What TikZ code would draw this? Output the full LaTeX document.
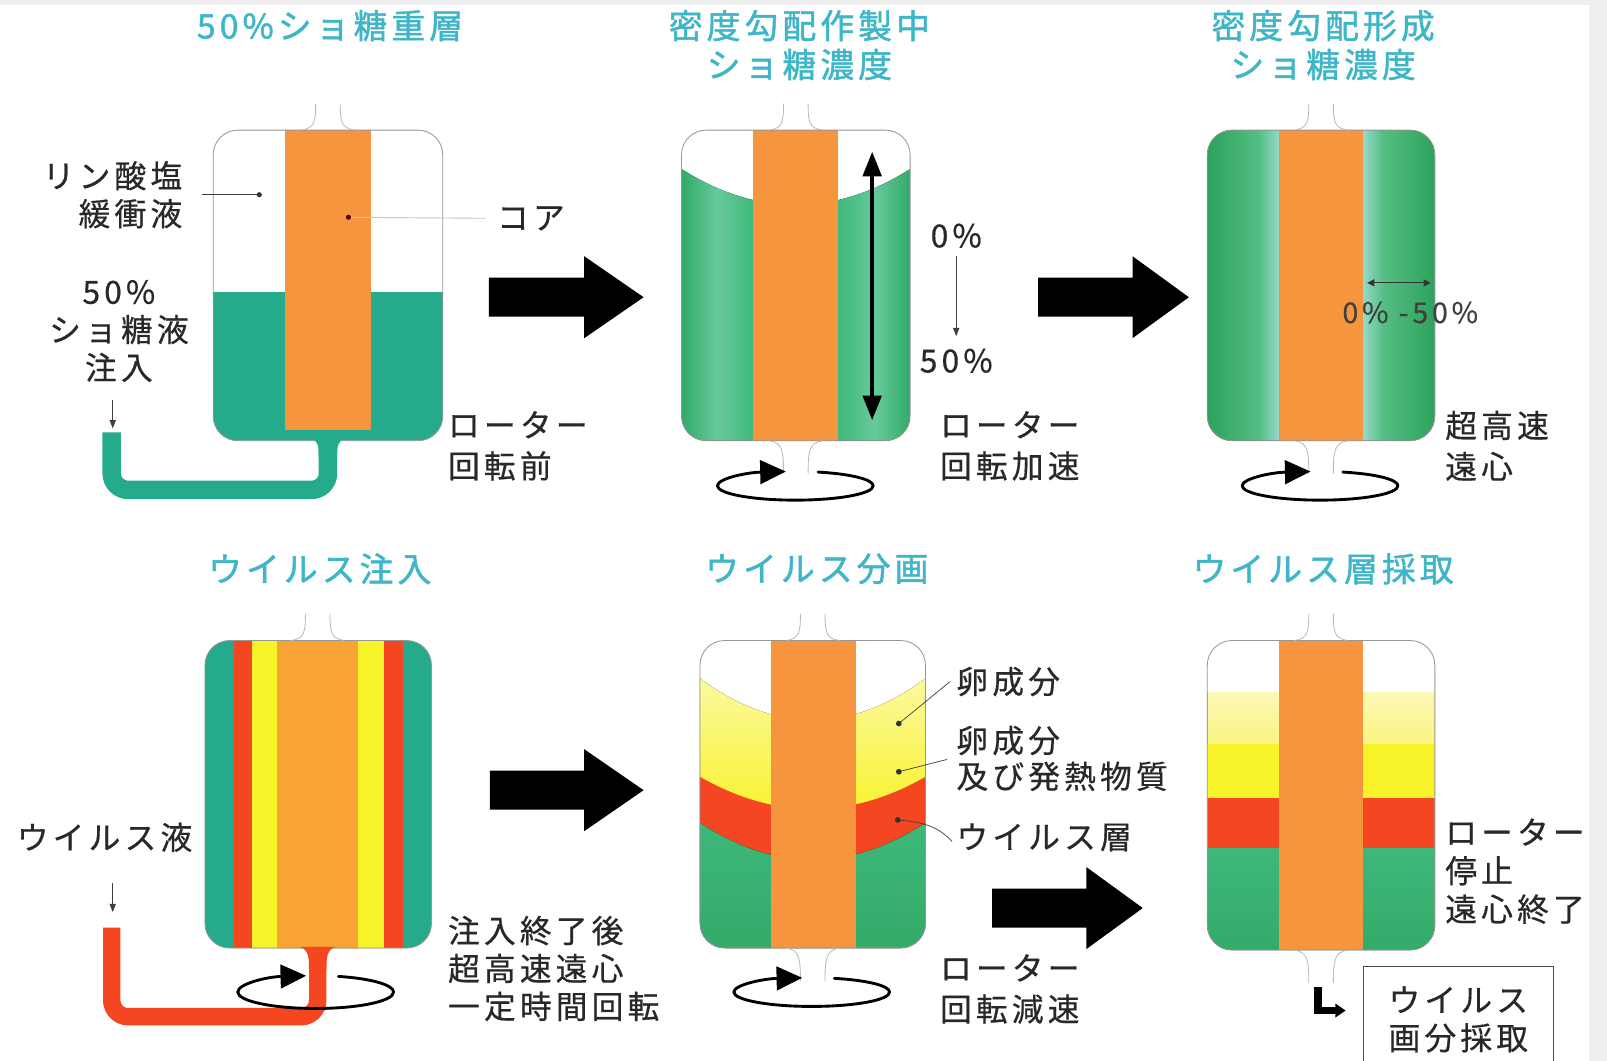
\documentclass[tikz,border=0pt]{standalone}
\usepackage{fontspec}
\usetikzlibrary{arrows.meta}
\newfontfamily\jp[LetterSpace=13,FakeBold=0.5]{Noto Sans CJK JP}
\newfontfamily\jpt[LetterSpace=12,FakeBold=1.4]{Noto Sans CJK JP}

\definecolor{ttlteal}{RGB}{62,182,200}
\definecolor{coreor}{RGB}{247,148,62}
\definecolor{teal1}{RGB}{38,170,140}
\definecolor{grn}{RGB}{62,184,122}
\definecolor{grnd}{RGB}{50,170,104}
\definecolor{grnl}{RGB}{104,202,156}
\definecolor{gthd}{RGB}{44,162,92}
\definecolor{gthm}{RGB}{84,190,130}
\definecolor{cyl}{RGB}{150,218,205}
\definecolor{vred}{RGB}{244,70,32}
\definecolor{vyel}{RGB}{248,242,40}
\definecolor{pyel}{RGB}{250,246,165}
\definecolor{rim}{RGB}{150,150,150}
\definecolor{bgray}{RGB}{238,238,238}
\definecolor{txt}{RGB}{40,40,40}

% thin funnel lines above / below a tube
\newcommand\necktop[2]{%
  \draw[neck] (#1-12,#2-26) .. controls (#1-12,#2-8) and (#1-13,#2-2) .. (#1-26,#2);
  \draw[neck] (#1+12,#2-26) .. controls (#1+12,#2-8) and (#1+13,#2-2) .. (#1+26,#2);}
\newcommand\neckbot[2]{%
  \draw[neck] (#1-12,#2+32) .. controls (#1-12,#2+10) and (#1-13,#2+2) .. (#1-26,#2);
  \draw[neck] (#1+12,#2+32) .. controls (#1+12,#2+10) and (#1+13,#2+2) .. (#1+26,#2);}
% rotation symbol: back part (with arrow) and front part
\newcommand\rotback[3]{%
  \draw[rot, -{Triangle[length=25pt,width=23pt]}] (#1-76,#2) arc[start angle=180, end angle=263, x radius=76, y radius=#3];
  \draw[rot] (#1+76,#2) arc[start angle=360, end angle=287, x radius=76, y radius=#3];}
\newcommand\rotfront[3]{%
  \draw[rot] (#1+76,#2) arc[start angle=0, end angle=180, x radius=76, y radius=#3];}
% big block arrow: x start, x head base, x tip, y centre
\newcommand\blockarrow[4]{%
  \fill[black] (#1,#4-19) -- (#2,#4-19) -- (#2,#4-40) -- (#3,#4) -- (#2,#4+40) -- (#2,#4+19) -- (#1,#4+19) -- cycle;}

\begin{document}
\begin{tikzpicture}[x=1pt,y=-1pt,
  lbl/.style={font=\jp\fontsize{31}{37}\selectfont, text=txt, inner sep=0pt},
  ttl/.style={font=\jpt\fontsize{33}{38}\selectfont, text=ttlteal, inner sep=0pt},
  outline/.style={draw=rim, line width=0.8pt},
  neck/.style={draw=gray!55, line width=0.8pt},
  rot/.style={line width=2.8pt, line cap=round, black},
  lead/.style={draw=black!75, line width=0.7pt},
  leadl/.style={draw=gray!45, line width=0.9pt},
  smallarrow/.style={draw=black!75, line width=0.8pt, -{Triangle[length=8pt,width=6pt]}},
  dot/.style={fill=black!80}]

\useasboundingbox (0,0) rectangle (1568,1035);
\fill[bgray] (0,0) rectangle (1568,1035);
\fill[white] (0,5) rectangle (1550,1035);

%================ top row ================
% titles
\node[ttl] (t1) at (322,25) {50\%ショ糖重層};
\node[ttl, align=center] (t2) at (780,44) {密度勾配作製中\\ショ糖濃度};
\node[ttl, align=center] (t3) at (1291,44) {密度勾配形成\\ショ糖濃度};

% ---- flask 1 : sucrose layer
\begin{scope}
  \clip[rounded corners=24pt] (208,127) rectangle (432,430);
  \fill[teal1] (200,285) rectangle (440,440);
\end{scope}
\fill[coreor] (278,127) rectangle (362,420);
\draw[outline, rounded corners=24pt] (208,127) rectangle (432,430);
\necktop{320}{127}
\draw[line width=18pt, teal1, rounded corners=16pt] (320,428) -- (320,478) -- (109,478) -- (109,422);
\fill[teal1] (303,428) .. controls (311,430) and (311,436) .. (311,446) -- (329,446) .. controls (329,436) and (329,430) .. (337,428) -- cycle;

\node[lbl, align=right, anchor=east] (buf) at (178,190) {リン酸塩\\緩衝液};
\coordinate (bufdot) at (253,190);
\draw[lead] ([xshift=19pt]buf.east) -- (bufdot);
\fill[dot] (bufdot) circle[radius=2.5];

\node[lbl] (core) at (518,213) {コア};
\coordinate (coredot) at (340,212);
\draw[leadl] (coredot) -- ([xshift=-12pt]core.west);
\fill[black!70!red] (coredot) circle[radius=2.5];

\node[lbl, align=center] (inj) at (116,323) {50\%\\ショ糖液\\注入};
\coordinate (injstart) at (110,390);
\coordinate (injtip) at (110,418);
\draw[smallarrow] (injstart) -- (injtip);

\node[lbl, anchor=west, align=left, font=\jp\fontsize{31}{40}\selectfont] (r1) at (437,435) {ローター\\回転前};

\blockarrow{477}{570}{628}{290}

% ---- flask 2 : gradient forming
\begin{scope}
  \clip[rounded corners=24pt] (665,127) rectangle (888,430);
  \clip (665,165) .. controls (739.3,211.7) and (813.7,211.7) .. (888,165) -- (895,165) -- (895,440) -- (660,440) -- (660,165) -- cycle;
  \fill[left color=grnd, right color=grn, middle color=grnl] (665,120) rectangle (735,440);
  \fill[left color=grn, right color=grnd, middle color=grnl] (818,120) rectangle (888,440);
\end{scope}
\fill[coreor] (735,127) rectangle (818,430);
\draw[outline, rounded corners=24pt] (665,127) rectangle (888,430);
\necktop{776.5}{127}
\neckbot{776.5}{430}
\draw[line width=3.5pt, {Triangle[length=24pt,width=18pt]}-{Triangle[length=24pt,width=18pt]}] (851,148) -- (851,410);

\node[lbl] (p0) at (933,230) {0\%};
\node[lbl] (p50) at (933,352) {50\%};
\draw[smallarrow] ([yshift=-8pt]p0.south) -- ([yshift=12pt]p50.north);
\node[lbl, anchor=west, align=left, font=\jp\fontsize{31}{40}\selectfont] (r2) at (917,435) {ローター\\回転加速};
\rotback{776}{474}{14}
\rotfront{776}{474}{14}

\blockarrow{1013}{1105}{1160}{290}

% ---- flask 3 : gradient formed
\begin{scope}
  \clip[rounded corners=24pt] (1178,127) rectangle (1400,430);
  \fill[left color=gthd, right color=gthm] (1178,120) rectangle (1228,440);
  \fill[left color=gthm, right color=cyl] (1228,120) rectangle (1248.5,440);
  \fill[left color=cyl, right color=gthm] (1329.5,120) rectangle (1350,440);
  \fill[left color=gthm, right color=gthd] (1350,120) rectangle (1400,440);
\end{scope}
\fill[coreor] (1248,127) rectangle (1330,430);
\draw[outline, rounded corners=24pt] (1178,127) rectangle (1400,430);
\necktop{1289}{127}
\neckbot{1289}{430}
\coordinate (gl) at (1334,276);
\coordinate (gr) at (1396,276);
\draw[line width=0.9pt, black!80, {Triangle[length=7pt,width=7pt]}-{Triangle[length=7pt,width=7pt]}] (gl) -- (gr);
\node[lbl, font=\jp\fontsize{28}{32}\selectfont, text=black!75] (p3) at (1376,305) {0\% -50\%};
\node[lbl, anchor=west, align=left, font=\jp\fontsize{31}{40}\selectfont] (r3) at (1410,435) {超高速\\遠心};
\rotback{1288}{474}{14}
\rotfront{1288}{474}{14}

%================ bottom row ================
\node[ttl] (t4) at (312,555) {ウイルス注入};
\node[ttl] (t5) at (797,555) {ウイルス分画};
\node[ttl] (t6) at (1291,555) {ウイルス層採取};

% ---- flask 4 : virus injection
\begin{scope}
  \clip[rounded corners=24pt] (200,625) rectangle (421,925);
  \fill[teal1] (195,620) rectangle (426,930);
  \fill[vred] (228,620) rectangle (393,930);
  \fill[vyel] (246,620) rectangle (375,930);
  \fill[coreor!85!yellow] (270,620) rectangle (349,930);
\end{scope}
\draw[outline, rounded corners=24pt] (200,625) rectangle (421,925);
\necktop{310}{625}
\rotback{308}{968}{16}
\draw[line width=17pt, vred, rounded corners=16pt] (310,924) -- (310,992) -- (109,992) -- (109,905);
\fill[vred] (293,924) .. controls (301,927) and (301.5,934) .. (301.5,946) -- (318.5,946) .. controls (318.5,934) and (319,927) .. (327,924) -- cycle;
\rotfront{308}{968}{16}

\node[lbl] (vir) at (102,817) {ウイルス液};
\coordinate (virstart) at (110,862);
\coordinate (virtip) at (110,890);
\draw[smallarrow] (virstart) -- (virtip);
\node[lbl, anchor=west, align=left] (r4) at (437,945) {注入終了後\\超高速遠心\\一定時間回転};

\blockarrow{478}{570}{628}{771}

% ---- flask 5 : virus fractionation
\begin{scope}
  \clip[rounded corners=24pt] (683,625) rectangle (903,925);
  \fill[top color=vyel!45!white, bottom color=vyel] (683,662) .. controls (756.3,716.1) and (829.7,716.1) .. (903,662) -- (903,800) -- (683,800) -- cycle;
  \fill[vred] (683,758) .. controls (756.3,799.9) and (829.7,799.9) .. (903,758) -- (903,930) -- (683,930) -- cycle;
  \fill[top color=grn, bottom color=grnd] (683,803) .. controls (756.3,851) and (829.7,851) .. (903,803) -- (903,930) -- (683,930) -- cycle;
\end{scope}
\fill[coreor] (752,625) rectangle (835,925);
\draw[outline, rounded corners=24pt] (683,625) rectangle (903,925);
\necktop{793}{625}
\neckbot{793}{925}
\rotback{792}{968}{14}
\rotfront{792}{968}{14}

\node[lbl, anchor=west] (egg) at (933,665) {卵成分};
\node[lbl, anchor=west, align=left, font=\jp\fontsize{31}{35}\selectfont] (eggp) at (933,740) {卵成分\\及び発熱物質};
\node[lbl, anchor=west] (vl) at (933,817) {ウイルス層};
\coordinate (d1) at (877,706);
\coordinate (d2) at (877,753);
\coordinate (d3) at (876,800);
\draw[lead] (d1) -- ([xshift=-6pt]egg.west);
\draw[lead] (d2) -- ([xshift=-9pt,yshift=-1pt]eggp.west);
\draw[lead] (d3) .. controls (900,802) and (915,806) .. ([xshift=-4pt,yshift=-4pt]vl.west);
\foreach \d in {d1,d2,d3} \fill[dot] (\d) circle[radius=2.8];
\node[lbl, anchor=west, align=left, font=\jp\fontsize{31}{40}\selectfont] (r5) at (917,965) {ローター\\回転減速};

\blockarrow{968}{1060}{1115}{886}

% ---- flask 6 : collection of virus layer
\begin{scope}
  \clip[rounded corners=24pt] (1178,625) rectangle (1400,927);
  \fill[top color=pyel!80!white, bottom color=pyel!70!vyel] (1170,676) rectangle (1410,726);
  \fill[vyel] (1170,726) rectangle (1410,779);
  \fill[vred] (1170,779) rectangle (1410,828);
  \fill[top color=grn, bottom color=grnd] (1170,828) rectangle (1410,935);
\end{scope}
\fill[coreor] (1248,625) rectangle (1330,927);
\draw[outline, rounded corners=24pt] (1178,625) rectangle (1400,927);
\necktop{1289}{625}
\neckbot{1289}{927}

\node[lbl, anchor=west, align=left, font=\jp\fontsize{31}{37.5}\selectfont] (r6) at (1410,850) {ローター\\停止\\遠心終了};
\node[lbl, draw=black!70, line width=0.8pt, align=left, anchor=north west, minimum width=185pt, minimum height=100pt, inner xsep=21pt, inner ysep=12pt, text depth=0pt] (box) at (1330,943) {ウイルス\\画分採取};
\coordinate (ba) at (1286,963);
\coordinate (bb) at (1313,986);
\draw[line width=7pt, -{Triangle[length=10pt,width=13pt]}] (ba) |- (bb);

\end{tikzpicture}
\end{document}
